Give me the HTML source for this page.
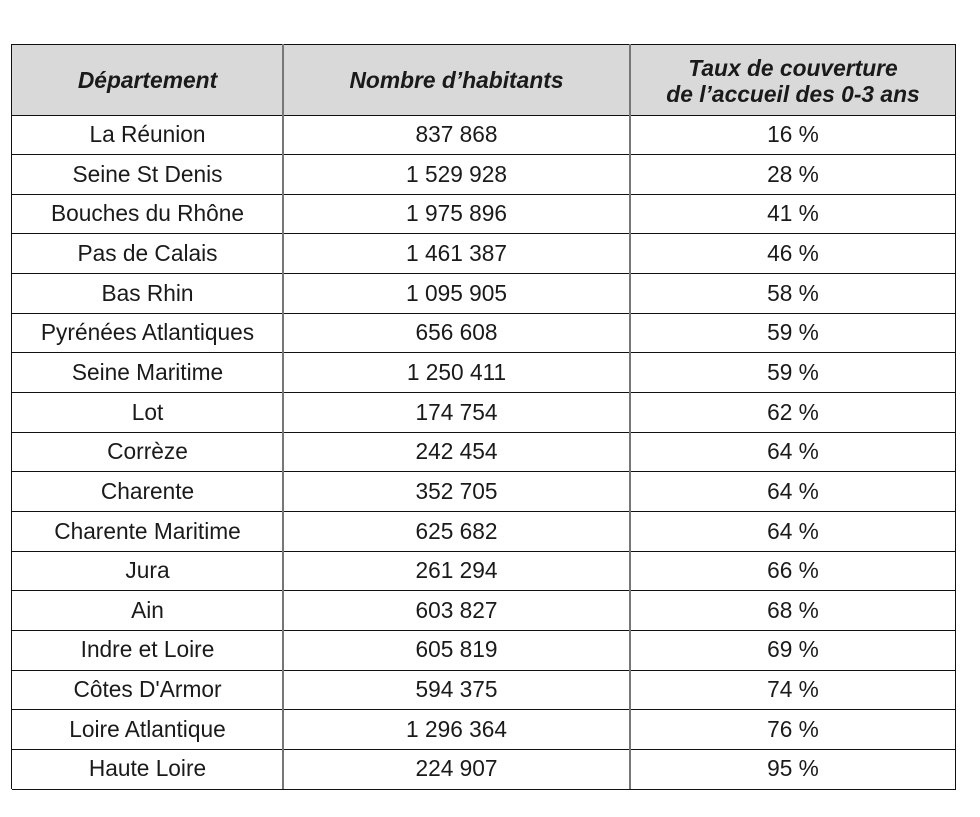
<!DOCTYPE html>
<html><head><meta charset="utf-8"><style>
body{margin:0;background:#fff;width:980px;height:817px;position:relative;font-family:"Liberation Sans",Arial,sans-serif;color:#1a1a1a}
.h{position:absolute;left:12px;top:44px;width:944px;height:71px;background:#d9d9d9}
.hl{position:absolute;height:0;border-top:1.5px solid #111}
.vl{position:absolute;width:0;border-left:2px solid #777;top:44px;height:745px}
.c{position:absolute;text-align:center;font-size:22.7px;line-height:39px;white-space:nowrap}
.hd{position:absolute;text-align:center;font-size:22.8px;font-weight:bold;font-style:italic;line-height:26px;white-space:nowrap}
</style></head><body>
<div class="h"></div>
<div class="hd" style="left:12px;width:271px;top:67px">Département</div>
<div class="hd" style="left:283px;width:347px;top:67px">Nombre d’habitants</div>
<div class="hd" style="left:630px;width:326px;top:55px">Taux de couverture<br>de l’accueil des 0-3 ans</div>
<div id="rows"></div>
<script>
var d=[["La Réunion","837 868","16 %"],["Seine St Denis","1 529 928","28 %"],["Bouches du Rhône","1 975 896","41 %"],["Pas de Calais","1 461 387","46 %"],["Bas Rhin","1 095 905","58 %"],["Pyrénées Atlantiques","656 608","59 %"],["Seine Maritime","1 250 411","59 %"],["Lot","174 754","62 %"],["Corrèze","242 454","64 %"],["Charente","352 705","64 %"],["Charente Maritime","625 682","64 %"],["Jura","261 294","66 %"],["Ain","603 827","68 %"],["Indre et Loire","605 819","69 %"],["Côtes D'Armor","594 375","74 %"],["Loire Atlantique","1 296 364","76 %"],["Haute Loire","224 907","95 %"]];
var h='';var rh=(789-115)/17;
h+='<div class="hl" style="left:12px;width:944px;top:44px"></div>';
for(var i=0;i<=17;i++){h+='<div class="hl" style="left:12px;width:944px;top:'+(115+i*rh-0.5).toFixed(1)+'px"></div>';}
for(var i=0;i<17;i++){var t=(115+i*rh).toFixed(1);
h+='<div class="c" style="left:12px;width:271px;top:'+t+'px">'+d[i][0]+'</div>';
h+='<div class="c" style="left:283px;width:347px;top:'+t+'px">'+d[i][1]+'</div>';
h+='<div class="c" style="left:630px;width:326px;top:'+t+'px">'+d[i][2]+'</div>';}
h+='<div class="vl" style="left:11px;border-color:#111;border-left-width:1.5px"></div><div class="vl" style="left:282px"></div><div class="vl" style="left:629px"></div><div class="vl" style="left:955px;border-color:#111;border-left-width:1.5px"></div>';
document.getElementById('rows').innerHTML=h;
</script>
</body></html>
